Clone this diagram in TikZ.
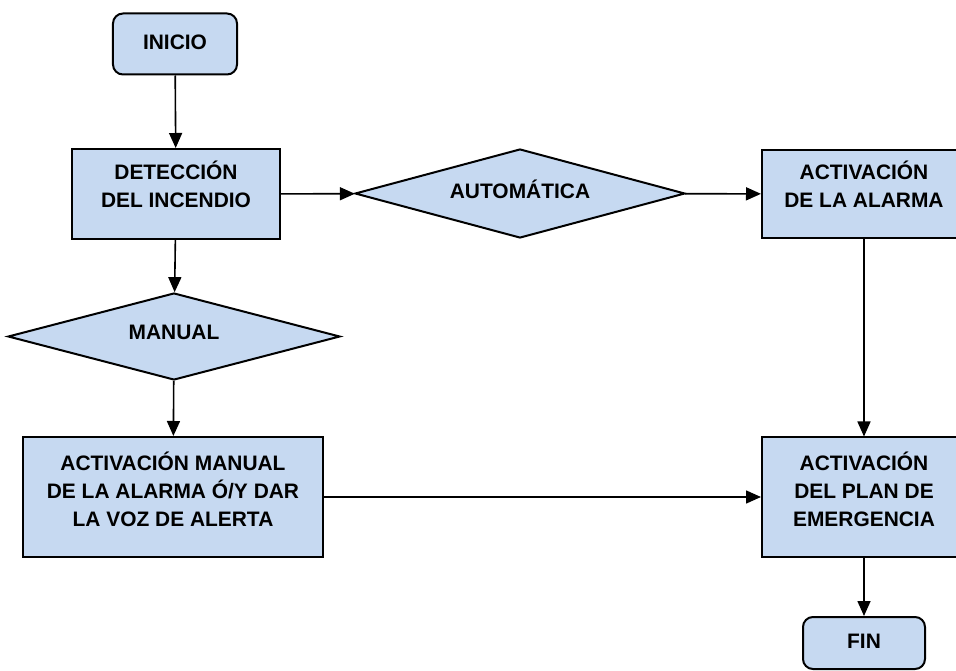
\documentclass[tikz,border=0pt]{standalone}
\usepackage{fontspec}
\setmainfont{Liberation Sans}
\usetikzlibrary{shapes.geometric,arrows.meta}
\definecolor{cajaazul}{HTML}{C6D9F1}
\begin{document}
\begin{tikzpicture}[x=0.5bp,y=-0.5bp,
  font=\fontsize{10.5}{14}\selectfont\bfseries,
  caja/.style={draw,line width=1bp,fill=cajaazul,align=center,inner sep=0pt},
  terminal/.style={caja,rounded corners=5bp},
  decision/.style={caja,diamond,aspect=3.7},
  subir/.style={text depth=#1},
  flecha/.style={line width=0.8bp,-{Triangle[length=7.5bp,width=6.5bp]}}]
  \useasboundingbox (0,0) rectangle (956,671);
  \node[terminal,subir=2bp,minimum width=62bp,minimum height=30.5bp] (inicio) at (175,44) {INICIO};
  \node[caja,subir=10bp,minimum width=103.5bp,minimum height=45bp] (deteccion) at (176,194) {DETECCIÓN\\DEL INCENDIO};
  \node[decision,subir=4.5bp,minimum width=165bp,minimum height=44.5bp] (automatica) at (520,193.5) {AUTOMÁTICA};
  \node[caja,subir=10bp,minimum width=102bp,minimum height=44bp] (alarma) at (864,194) {ACTIVACIÓN\\DE LA ALARMA};
  \node[decision,subir=4.5bp,minimum width=166bp,minimum height=43.5bp] (manual) at (174,336.5) {MANUAL};
  \node[caja,subir=8bp,minimum width=150bp,minimum height=60bp] (actmanual) at (173,497) {ACTIVACIÓN MANUAL\\DE LA ALARMA Ó/Y DAR\\LA VOZ DE ALERTA};
  \node[caja,subir=8bp,minimum width=102bp,minimum height=59.5bp] (plan) at (864,497) {ACTIVACIÓN\\DEL PLAN DE\\EMERGENCIA};
  \node[terminal,subir=1.5bp,minimum width=61bp,minimum height=26bp] (fin) at (864,643) {FIN};
  % conectores
  \draw[flecha] (inicio) -- (deteccion);
  \draw[flecha] (deteccion) -- (automatica);
  \draw[flecha] (automatica) -- (alarma);
  \draw[flecha] (deteccion) -- (manual);
  \draw[flecha] (manual) -- (actmanual);
  \draw[flecha] (actmanual) -- (plan);
  \draw[flecha] (alarma) -- (plan);
  \draw[flecha] (plan) -- (fin);
\end{tikzpicture}
\end{document}
